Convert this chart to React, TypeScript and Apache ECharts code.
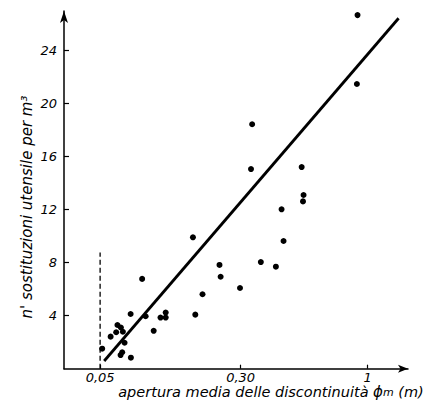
import { useEffect, useRef } from 'react';
import * as echarts from 'echarts';

// mean discontinuity aperture (m) and tool replacements per m3
const apertura = [0.918, 0.913, 0.339, 0.335, 0.555, 0.565, 0.562, 0.457, 0.466, 0.175, 0.238, 0.241, 0.371, 0.432, 0.298, 0.196, 0.180, 0.0917, 0.0782, 0.0961, 0.117, 0.125, 0.125, 0.107, 0.0648, 0.0681, 0.0636, 0.0701, 0.0586, 0.0718, 0.0516, 0.0678, 0.0694, 0.0785];
const sostituzioni = [26.69, 21.49, 18.45, 15.07, 15.22, 13.11, 12.63, 12.03, 9.64, 9.92, 7.83, 6.94, 8.05, 7.70, 6.09, 5.62, 4.08, 6.78, 4.13, 3.96, 3.86, 4.24, 3.86, 2.86, 3.30, 3.11, 2.75, 2.79, 2.42, 1.96, 1.51, 1.03, 1.24, 0.83];

const fitX = [0.0532, 1.29];
const fitY = [0.58, 26.45];
const limitX = [0.05, 0.05];
const limitY = [0, 8.78];

const xTickValues = [0.05, 0.3, 1];
const xTickLabels = ['0,05', '0,30', '1'];
const yTicks = [4, 8, 12, 16, 20, 24];
const X_MIN = 0.0278;
const X_MAX = 1.39;
const Y_MIN = 0;
const Y_MAX = 27;

// the original's horizontal axis follows a power (fifth-root) scale
const toAxis = (m: number) => Math.pow(m, 0.2);

const FONT = '"DejaVu Sans", sans-serif';

export default function App() {
  const ref = useRef<HTMLDivElement>(null);
  useEffect(() => {
    const chart = echarts.init(ref.current!, null, { renderer: 'svg' });
    const xTickPos = xTickValues.map(toAxis);
    chart.setOption({
      animation: false,
      backgroundColor: '#fff',
      grid: { left: 64, right: 26, top: 11, bottom: 32.3 },
      xAxis: {
        type: 'value',
        min: toAxis(X_MIN),
        max: toAxis(X_MAX),
        splitLine: { show: false },
        axisLine: { onZero: true, lineStyle: { color: '#000', width: 1.5 }, symbol: ['none', 'arrow'], symbolSize: [6, 10] },
        axisTick: { show: true, inside: true, length: 4, customValues: xTickPos, lineStyle: { color: '#000', width: 1.2 } },
        axisLabel: {
          customValues: xTickPos,
          margin: 2,
          color: '#000',
          fontFamily: FONT,
          fontStyle: 'italic',
          fontSize: 13,
          lineHeight: 13,
          formatter: (v: number) => {
            const i = xTickPos.findIndex((p) => Math.abs(p - v) < 1e-6);
            return i >= 0 ? xTickLabels[i] : '';
          },
        },
      },
      yAxis: {
        type: 'value',
        min: Y_MIN,
        max: Y_MAX,
        splitLine: { show: false },
        axisLine: { lineStyle: { color: '#000', width: 1.5 }, symbol: ['none', 'arrow'], symbolSize: [6, 12] },
        axisTick: { show: true, inside: true, length: 5, customValues: yTicks, lineStyle: { color: '#000', width: 1.2 } },
        axisLabel: {
          customValues: yTicks,
          margin: 7,
          color: '#000',
          fontFamily: FONT,
          fontStyle: 'italic',
          fontSize: 13,
        },
      },
      series: [
        {
          type: 'line',
          data: limitX.map((m, i) => [toAxis(m), limitY[i]]),
          symbol: 'none',
          lineStyle: { color: '#000', width: 1.3, type: [5, 3] },
          silent: true,
        },
        {
          type: 'line',
          data: fitX.map((m, i) => [toAxis(m), fitY[i]]),
          symbol: 'none',
          lineStyle: { color: '#000', width: 2.8 },
          silent: true,
        },
        {
          type: 'scatter',
          data: apertura.map((m, i) => [toAxis(m), sostituzioni[i]]),
          symbol: 'circle',
          symbolSize: 6,
          itemStyle: { color: '#000', opacity: 1 },
        },
      ],
      graphic: [
        {
          type: 'text',
          x: 27,
          y: 207,
          rotation: Math.PI / 2,
          style: {
            text: "n' sostituzioni utensile per m³",
            font: `italic 15px ${FONT}`,
            fill: '#000',
            align: 'center',
            verticalAlign: 'middle',
          },
        },
        {
          type: 'text',
          x: 271,
          y: 391.5,
          style: {
            text: '{a|apertura media delle discontinuità }{f|ϕ}{s|m}{a| (m)}',
            align: 'center',
            verticalAlign: 'middle',
            fill: '#000',
            rich: {
              a: { font: `italic 14.5px ${FONT}`, fill: '#000', lineHeight: 13 },
              f: { font: `italic 15px ${FONT}`, fill: '#000', lineHeight: 13 },
              s: { font: `italic 11px ${FONT}`, fill: '#000', lineHeight: 7, verticalAlign: 'bottom' },
            },
          },
        },
      ],
    });
    return () => chart.dispose();
  }, []);
  return <div ref={ref} style={{ position: 'fixed', left: 0, top: 0, width: 434, height: 401 }} />;
}
